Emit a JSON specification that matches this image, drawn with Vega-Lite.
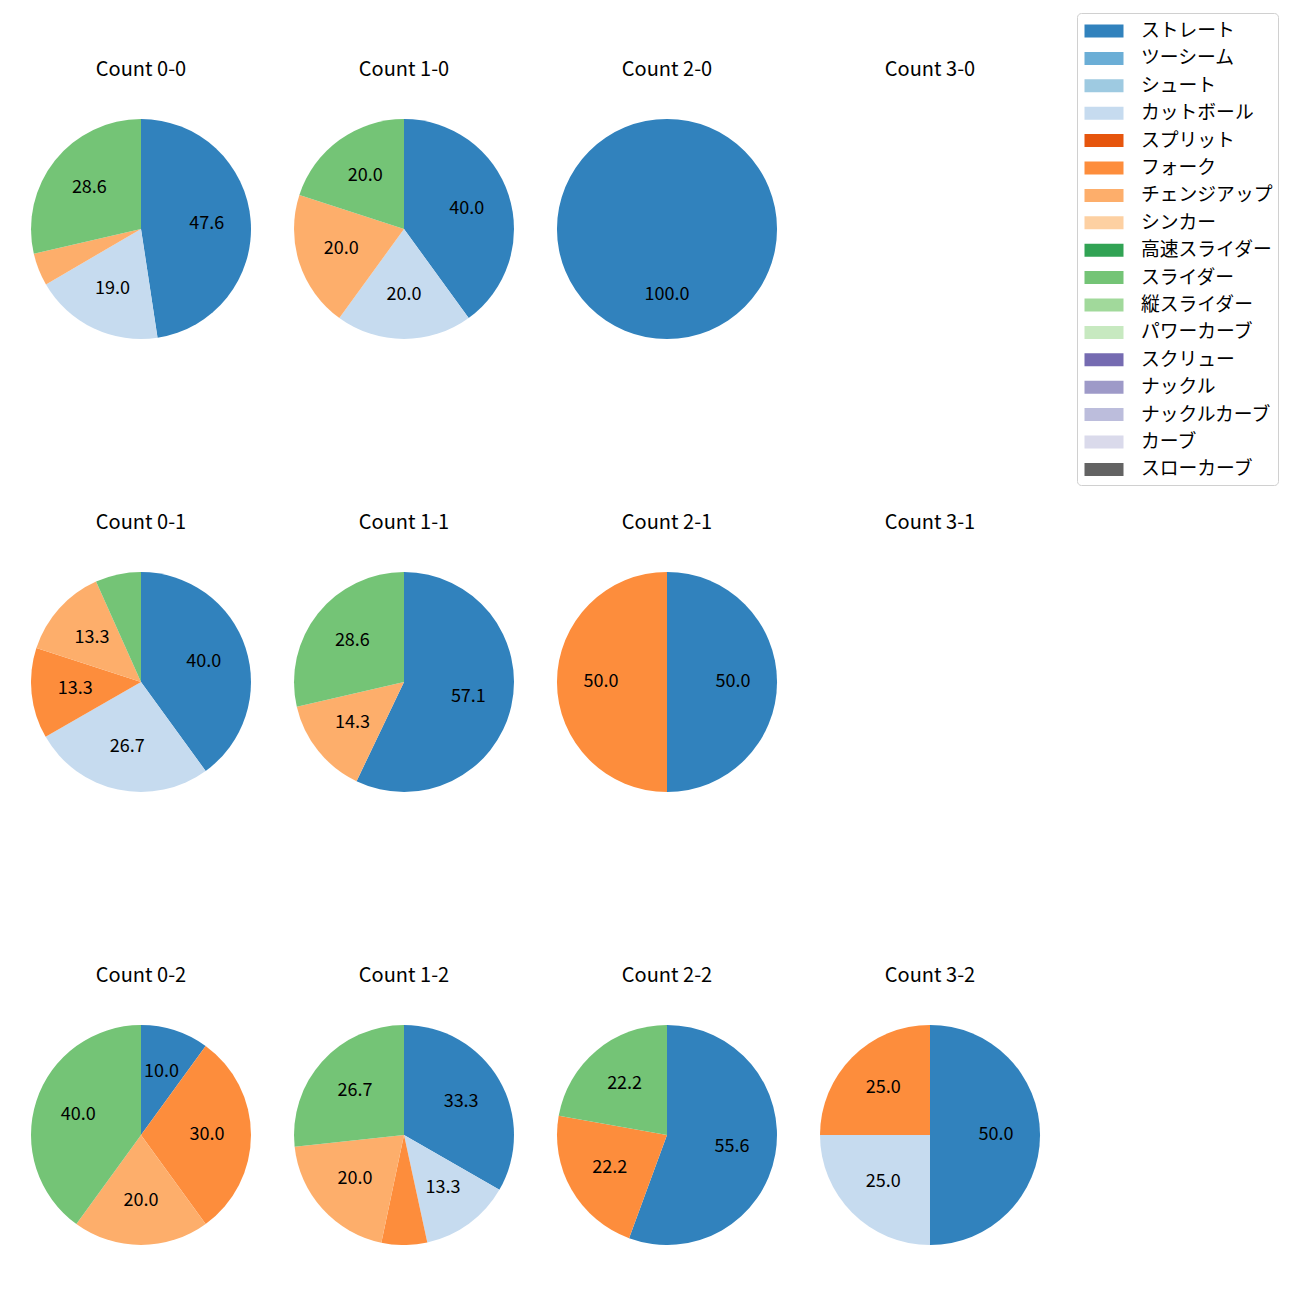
{
  "$schema": "https://vega.github.io/schema/vega-lite/v6.json",
  "padding": {"left": 31, "top": 12, "right": 0, "bottom": 0},
  "background": "white",
  "data": {"values": [
    {"count": "Count 0-0", "pitch": "ストレート", "idx": 0, "pct": 47.6},
    {"count": "Count 0-0", "pitch": "カットボール", "idx": 3, "pct": 19.0},
    {"count": "Count 0-0", "pitch": "チェンジアップ", "idx": 6, "pct": 4.8},
    {"count": "Count 0-0", "pitch": "スライダー", "idx": 9, "pct": 28.6},
    {"count": "Count 1-0", "pitch": "ストレート", "idx": 0, "pct": 40.0},
    {"count": "Count 1-0", "pitch": "カットボール", "idx": 3, "pct": 20.0},
    {"count": "Count 1-0", "pitch": "チェンジアップ", "idx": 6, "pct": 20.0},
    {"count": "Count 1-0", "pitch": "スライダー", "idx": 9, "pct": 20.0},
    {"count": "Count 2-0", "pitch": "ストレート", "idx": 0, "pct": 100.0},
    {"count": "Count 3-0", "pitch": null, "idx": null, "pct": null},
    {"count": "Count 0-1", "pitch": "ストレート", "idx": 0, "pct": 40.0},
    {"count": "Count 0-1", "pitch": "カットボール", "idx": 3, "pct": 26.7},
    {"count": "Count 0-1", "pitch": "フォーク", "idx": 5, "pct": 13.3},
    {"count": "Count 0-1", "pitch": "チェンジアップ", "idx": 6, "pct": 13.3},
    {"count": "Count 0-1", "pitch": "スライダー", "idx": 9, "pct": 6.7},
    {"count": "Count 1-1", "pitch": "ストレート", "idx": 0, "pct": 57.1},
    {"count": "Count 1-1", "pitch": "チェンジアップ", "idx": 6, "pct": 14.3},
    {"count": "Count 1-1", "pitch": "スライダー", "idx": 9, "pct": 28.6},
    {"count": "Count 2-1", "pitch": "ストレート", "idx": 0, "pct": 50.0},
    {"count": "Count 2-1", "pitch": "フォーク", "idx": 5, "pct": 50.0},
    {"count": "Count 3-1", "pitch": null, "idx": null, "pct": null},
    {"count": "Count 0-2", "pitch": "ストレート", "idx": 0, "pct": 10.0},
    {"count": "Count 0-2", "pitch": "フォーク", "idx": 5, "pct": 30.0},
    {"count": "Count 0-2", "pitch": "チェンジアップ", "idx": 6, "pct": 20.0},
    {"count": "Count 0-2", "pitch": "スライダー", "idx": 9, "pct": 40.0},
    {"count": "Count 1-2", "pitch": "ストレート", "idx": 0, "pct": 33.3},
    {"count": "Count 1-2", "pitch": "カットボール", "idx": 3, "pct": 13.3},
    {"count": "Count 1-2", "pitch": "フォーク", "idx": 5, "pct": 6.7},
    {"count": "Count 1-2", "pitch": "チェンジアップ", "idx": 6, "pct": 20.0},
    {"count": "Count 1-2", "pitch": "スライダー", "idx": 9, "pct": 26.7},
    {"count": "Count 2-2", "pitch": "ストレート", "idx": 0, "pct": 55.6},
    {"count": "Count 2-2", "pitch": "フォーク", "idx": 5, "pct": 22.2},
    {"count": "Count 2-2", "pitch": "スライダー", "idx": 9, "pct": 22.2},
    {"count": "Count 3-2", "pitch": "ストレート", "idx": 0, "pct": 50.0},
    {"count": "Count 3-2", "pitch": "カットボール", "idx": 3, "pct": 25.0},
    {"count": "Count 3-2", "pitch": "フォーク", "idx": 5, "pct": 25.0}
  ]},
  "facet": {
    "field": "count", "type": "nominal",
    "sort": ["Count 0-0", "Count 1-0", "Count 2-0", "Count 3-0", "Count 0-1", "Count 1-1", "Count 2-1", "Count 3-1", "Count 0-2", "Count 1-2", "Count 2-2", "Count 3-2"],
    "header": {"title": null, "labelFontSize": 20, "labelFont": "Noto Sans CJK JP", "labelColor": "black", "labelPadding": 39}
  },
  "columns": 4,
  "spacing": {"column": 43, "row": 174},
  "resolve": {"scale": {"theta": "independent"}},
  "spec": {
    "width": 220,
    "height": 220,
    "encoding": {
      "theta": {"field": "pct", "type": "quantitative", "stack": true},
      "order": {"field": "idx", "type": "quantitative", "sort": "ascending"}
    },
    "layer": [
      {
        "mark": {"type": "arc", "outerRadius": 110},
        "encoding": {
          "color": {
            "field": "pitch", "type": "nominal",
            "scale": {
              "domain": ["ストレート", "ツーシーム", "シュート", "カットボール", "スプリット", "フォーク", "チェンジアップ", "シンカー", "高速スライダー", "スライダー", "縦スライダー", "パワーカーブ", "スクリュー", "ナックル", "ナックルカーブ", "カーブ", "スローカーブ"],
              "range": ["#3182bd", "#6baed6", "#9ecae1", "#c6dbef", "#e6550d", "#fd8d3c", "#fdae6b", "#fdd0a2", "#31a354", "#74c476", "#a1d99b", "#c7e9c0", "#756bb1", "#9e9ac8", "#bcbddc", "#dadaeb", "#636363"]
            },
            "legend": {
              "title": null, "orient": "none", "legendX": 1046, "legendY": -106,
              "values": ["ストレート", "ツーシーム", "シュート", "カットボール", "スプリット", "フォーク", "チェンジアップ", "シンカー", "高速スライダー", "スライダー", "縦スライダー", "パワーカーブ", "スクリュー", "ナックル", "ナックルカーブ", "カーブ", "スローカーブ"]
            }
          }
        }
      },
      {
        "mark": {"type": "text", "radius": 66, "fontSize": 18, "font": "Noto Sans CJK JP", "color": "black"},
        "encoding": {
          "text": {"field": "pct", "type": "quantitative", "format": ".1f"},
          "opacity": {"condition": {"test": "datum.pct < 8", "value": 0}, "value": 1}
        }
      }
    ]
  },
  "config": {
    "view": {"stroke": null},
    "legend": {
      "strokeColor": "#d0d0d0",
      "fillColor": "white",
      "cornerRadius": 4,
      "padding": 5,
      "labelFont": "Noto Sans CJK JP",
      "labelFontSize": 18.8,
      "labelColor": "black",
      "labelLimit": 300,
      "symbolType": "M-1.5,-0.5H1.5V0.5H-1.5Z",
      "symbolSize": 676,
      "symbolStrokeWidth": 0,
      "symbolOpacity": 1,
      "symbolOffset": 9,
      "labelOffset": 24,
      "rowPadding": 4.4
    }
  }
}
